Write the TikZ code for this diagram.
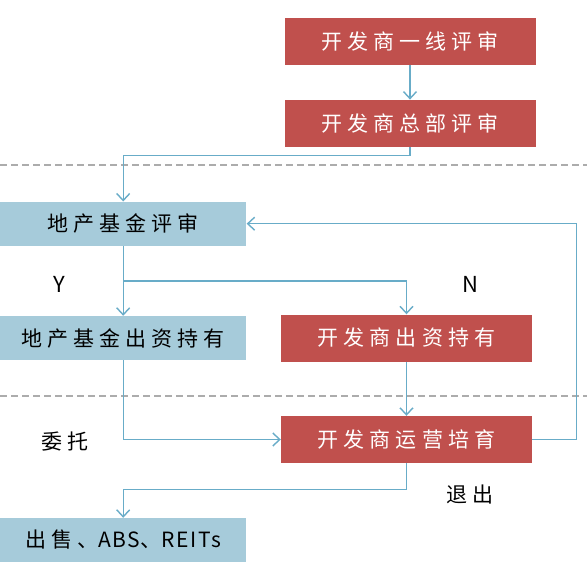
\documentclass[tikz,border=0pt]{standalone}
\usepackage{fontspec}
\setmainfont{Noto Sans CJK SC}
\newfontfamily\cjk[LetterSpace=24]{Noto Sans CJK SC}
\newfontfamily\latn[LetterSpace=8]{Noto Sans CJK SC}
\usetikzlibrary{positioning}
\usetikzlibrary{arrows.meta}
\definecolor{devred}{RGB}{192,80,77}
\definecolor{fundblue}{RGB}{166,203,218}
\definecolor{flowblue}{RGB}{104,172,200}
\definecolor{sepgray}{RGB}{172,172,172}

\begin{document}
\begin{tikzpicture}[x=1pt,y=-1pt,
	devbox/.style={fill=devred, text=white, minimum width=251pt, minimum height=47pt, inner sep=0pt, font=\cjk\fontsize{21}{24}\selectfont},
	fundbox/.style={fill=fundblue, text=black, minimum width=246.5pt, minimum height=44pt, inner sep=0pt, font=\cjk\fontsize{21}{24}\selectfont},
	flow/.style={flowblue, line width=1.4pt, -{Straight Barb[length=7pt,width=13pt]}},
	sepline/.style={sepgray, line width=1.2pt, dash pattern=on 7pt off 4pt},
	lbl/.style={inner sep=0pt, font=\cjk\fontsize{21}{24}\selectfont},
	yn/.style={inner sep=0pt, font=\latn\fontsize{22}{24}\selectfont}]

\useasboundingbox (0,0) rectangle (587,570);
\fill[white] (0,0) rectangle (587,570);

%separators
\draw[sepline] (0,165) -- (587,165);
\draw[sepline] (0,396) -- (587,396);

%developer boxes
\node[devbox] (devline) at (410,41.5) {开发商一线评审};
\node[devbox] (devhq) at (410,123.3) {开发商总部评审};
\node[devbox] (devhold) at (406.5,338) {开发商出资持有};
\node[devbox] (devop) at (406.5,439.5) {开发商运营培育};

%fund boxes
\node[fundbox] (fund) at (123.2,223.7) {地产基金评审};
\node[fundbox] (fundhold) at (123.2,338) {地产基金出资持有};
\node[fundbox] (sale) at (123.2,540) {出售、{\latn ABS}、{\latn REITs}};

%labels
\node[yn] (yes) at (59,284) {Y};
\node[yn] (no) at (470,284) {N};
\node[lbl] (trust) at (65,442) {委托};
\node[lbl] (quit) at (470,494.5) {退出};

\coordinate (split) at (123.2,281);

%flows
\draw[flow] (devline) -- (devhq);
\draw[flow] (devhq.south) -- ++(0,8.5) -| (fund.north);
\draw[flow] (fund.south) -- (fundhold.north);
\draw[flow] (split) -| (devhold.north);
\draw[flow] (devhold) -- (devop);
\draw[flow] (fundhold.south) |- (devop.west);
\draw[flow] (devop.east) -- ++(44,0) |- (fund.east);
\draw[flow] (devop.south) -- ++(0,26) -| (sale.north);

\end{tikzpicture}
\end{document}
